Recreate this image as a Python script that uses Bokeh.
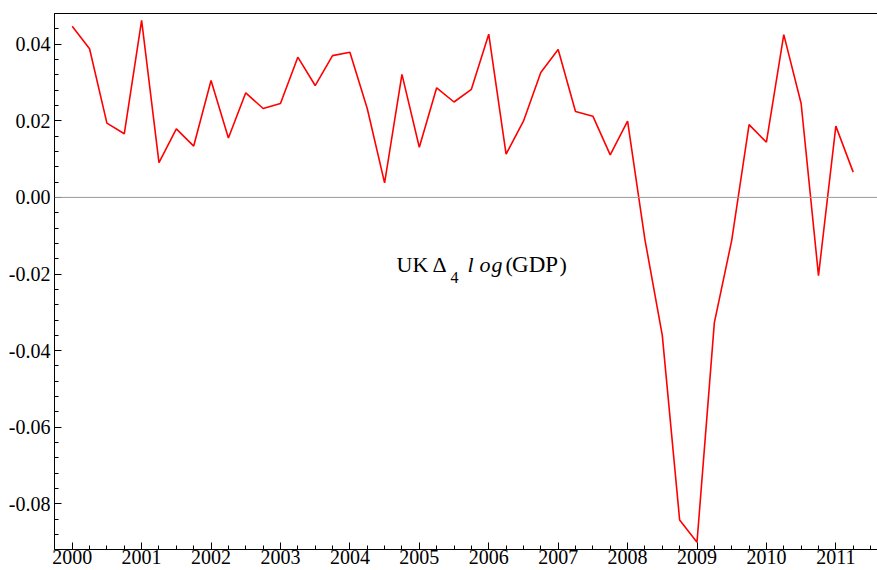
from bokeh.plotting import figure
from bokeh.models import (Range1d, LinearAxis, FixedTicker, SingleIntervalTicker,
                          NumeralTickFormatter, Span, Label, ColumnDataSource)
from bokeh.embed import file_html
from bokeh.resources import INLINE

# ---------------- data ----------------
quarters = [2000 + 0.25 * i for i in range(46)]  # 2000Q1 .. 2011Q2
gdp_growth = [
    0.0447, 0.0388, 0.0194, 0.0166,   # 2000
    0.0462, 0.0091, 0.0179, 0.0134,   # 2001
    0.0305, 0.0155, 0.0273, 0.0232,   # 2002
    0.0245, 0.0366, 0.0292, 0.0370,   # 2003
    0.0379, 0.0232, 0.0038, 0.0321,   # 2004
    0.0131, 0.0286, 0.0249, 0.0282,   # 2005
    0.0426, 0.0113, 0.0199, 0.0326,   # 2006
    0.0386, 0.0224, 0.0212, 0.0111,   # 2007
    0.0199, -0.0110, -0.0360, -0.0842,  # 2008
    -0.0900, -0.0327, -0.0112, 0.0190,  # 2009
    0.0144, 0.0425, 0.0245, -0.0204,    # 2010
    0.0186, 0.0066,                     # 2011
]
x_tick_step = 1
y_tick_step = 0.02

X_START, X_END = 1999.745, 2011.600
Y_START, Y_END = -0.0919, 0.0480
LABEL_X, LABEL_Y = 2004.672, -0.0175

FONT = "Liberation Serif"

p = figure(width=877, height=570, output_backend="svg", toolbar_location=None,
           x_range=Range1d(X_START, X_END), y_range=Range1d(Y_START, Y_END),
           x_axis_location=None, y_axis_location=None,
           min_border_left=54, min_border_right=0, min_border_top=13,
           min_border_bottom=21)
p.outline_line_color = None
p.xgrid.visible = False
p.ygrid.visible = False
p.background_fill_color = "white"
p.border_fill_color = "white"

def style_axis(ax):
    ax.axis_line_color = "black"
    ax.axis_line_width = 1
    ax.major_tick_in = 7
    ax.major_tick_out = 0
    ax.minor_tick_in = 4
    ax.minor_tick_out = 0
    ax.major_tick_line_color = "black"
    ax.minor_tick_line_color = "black"
    ax.major_label_text_font = FONT
    ax.major_label_text_font_size = "20px"
    ax.major_label_text_color = "black"

xaxis = LinearAxis(ticker=SingleIntervalTicker(interval=x_tick_step, num_minor_ticks=4))
style_axis(xaxis)
xaxis.major_label_standoff = 0
p.add_layout(xaxis, "below")

yaxis = LinearAxis(ticker=SingleIntervalTicker(interval=y_tick_step, num_minor_ticks=5),
                   formatter=NumeralTickFormatter(format="0.00"))
style_axis(yaxis)
yaxis.major_label_standoff = 4
p.add_layout(yaxis, "left")

top = LinearAxis(ticker=FixedTicker(ticks=[]))
top.axis_line_color = "black"
top.major_tick_out = 0
top.major_tick_in = 0
top.minor_tick_out = 0
top.minor_tick_in = 0
top.major_label_text_font_size = "0px"
top.major_label_standoff = 0
p.add_layout(top, "above")

p.add_layout(Span(location=0, dimension="width", line_color="#9a9a9a", line_width=1))

src = ColumnDataSource(dict(x=quarters, y=gdp_growth))
p.line("x", "y", source=src, line_color="#ff0000", line_width=1.6)

def lab(text, dx, dy=0, size="22px", style="normal"):
    p.add_layout(Label(x=LABEL_X, y=LABEL_Y, x_offset=dx, y_offset=dy, text=text,
                       text_font=FONT, text_font_size=size, text_font_style=style,
                       text_color="black", text_align="left",
                       text_baseline="alphabetic"))

lab("UK", 0)
lab("\u0394", 36)
lab("4", 54, dy=-12.7, size="16px")
lab("l", 71, style="italic")
lab("o", 83, style="italic")
lab("g", 95, style="italic")
lab("(", 109)
lab("GDP", 115.5, size="23px")
lab(")", 163)

open("out.html", "w").write(file_html(p, INLINE))
